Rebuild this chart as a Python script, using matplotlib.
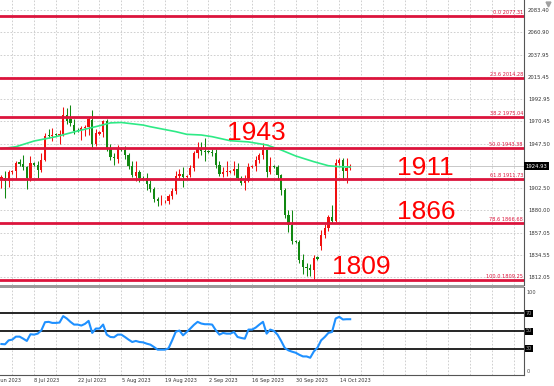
import matplotlib
matplotlib.use("Agg")
import matplotlib.pyplot as plt
import matplotlib.transforms as mtransforms
from matplotlib.lines import Line2D
from matplotlib.patches import Rectangle
import numpy as np

# ---------- daily XAUUSD bars, 28 Jun 2023 .. 18 Oct 2023 (broker shows short Sunday bars) ----------
opens = [1911.5, 1913, 1910, 1919, 1920, 1929, 1927, 1924, 1913, 1928,
         1926, 1921, 1931, 1957, 1955, 1957.5, 1956, 1958, 1977, 1973,
         1967, 1962, 1962, 1964, 1965, 1972, 1947, 1958, 1960, 1971,
         1943, 1934, 1932, 1942, 1941, 1936, 1925, 1915, 1919, 1913,
         1913, 1907, 1902, 1892, 1889, 1889, 1890, 1895, 1900, 1915,
         1917, 1914, 1916, 1923, 1938, 1942, 1940, 1940, 1939, 1938,
         1926, 1917, 1919, 1919, 1920, 1922, 1913, 1908, 1910, 1924,
         1925, 1931, 1936, 1941, 1919, 1925, 1924, 1916, 1901, 1875,
         1865, 1849, 1848, 1830, 1823, 1821, 1819, 1833, 1844, 1855,
         1862, 1873, 1869, 1928, 1931, 1920, 1923]
highs = [1916, 1920, 1921, 1921, 1930, 1932, 1936, 1925, 1935, 1929,
         1930, 1938, 1959, 1963, 1964, 1959, 1962, 1985, 1984, 1987,
         1973, 1964, 1966, 1967, 1975, 1982, 1963, 1961, 1972, 1973,
         1947, 1938, 1946, 1944, 1945, 1938, 1930, 1930, 1921, 1915,
         1918, 1911, 1904, 1894, 1896, 1891, 1897, 1903, 1920, 1922,
         1924, 1916, 1926, 1940, 1949, 1949, 1953, 1941, 1942, 1942,
         1930, 1924, 1930, 1921, 1930, 1928, 1915, 1916, 1928, 1926,
         1935, 1938, 1948, 1942, 1934, 1926, 1926, 1917, 1903, 1880,
         1880, 1850, 1850, 1836, 1827, 1826, 1835, 1834, 1860, 1866,
         1875, 1885, 1932, 1933, 1933, 1933, 1927]
lows = [1903, 1893, 1904, 1917, 1912, 1925, 1921, 1902, 1910, 1925,
        1913, 1919, 1930, 1953, 1950, 1955, 1947, 1955, 1968, 1966,
        1958, 1960, 1951, 1955, 1956, 1942, 1945, 1957, 1954, 1940,
        1931, 1926, 1928, 1940, 1932, 1922, 1914, 1910, 1909, 1911,
        1901, 1899, 1888, 1884, 1885, 1887, 1886, 1892, 1897, 1911,
        1904, 1913, 1914, 1920, 1933, 1936, 1930, 1938, 1935, 1923,
        1915, 1914, 1915, 1918, 1916, 1911, 1906, 1901, 1909, 1923,
        1920, 1928, 1932, 1914, 1917, 1923, 1911, 1896, 1872, 1858,
        1846, 1847, 1827, 1815, 1813, 1813, 1809.25, 1830, 1840, 1852,
        1859, 1867, 1868, 1926, 1911, 1908, 1921]
closes = [1913.5, 1910, 1919, 1920, 1928, 1927, 1924, 1913, 1928, 1926,
          1921, 1931, 1955, 1955, 1956, 1956, 1958, 1977, 1971, 1969,
          1961, 1961, 1964, 1965, 1973, 1947, 1959, 1960, 1971, 1943,
          1934, 1933, 1943, 1941, 1936, 1925, 1916, 1919, 1913, 1912,
          1907, 1902, 1892, 1889, 1890, 1890, 1895, 1900, 1915, 1917,
          1914, 1915, 1923, 1938, 1942, 1940, 1939.5, 1939, 1938, 1926,
          1917, 1919, 1919.5, 1920, 1922, 1913, 1908, 1910, 1924, 1925,
          1931, 1936, 1941, 1919, 1925, 1924, 1916, 1901, 1875, 1865,
          1849, 1848, 1830, 1823, 1821, 1819, 1832, 1831, 1855, 1862,
          1873, 1869, 1928, 1931, 1920, 1923, 1924.93]

# moving average, read at a few bars
ma_idx = [0, 4, 9, 15, 21, 27, 30, 33, 39, 41, 48, 51, 55, 58, 63, 68, 73, 77, 81, 86, 90, 93, 96]
ma_val = [1942.6, 1944.6, 1950.4, 1954.8, 1960.6, 1965.9, 1968.8, 1969.2, 1966.6, 1964.9,
          1959.9, 1957.2, 1956.5, 1954.8, 1950.7, 1949.5, 1946.4, 1941.3, 1935.2, 1929.4,
          1925.3, 1924.3, 1924.0]

rsi = [35.2, 34.9, 39.4, 40.2, 43.6, 43.6, 41.3, 38.7, 46.3, 45.9,
       47.0, 50.8, 60.0, 60.4, 59.2, 59.2, 59.6, 66.9, 64.2, 60.4,
       57.3, 57.3, 56.2, 58.1, 61.5, 47.8, 52.8, 52.8, 57.3, 45.9,
       43.2, 42.9, 45.9, 45.9, 43.2, 40.2, 37.5, 38.7, 37.5, 37.1,
       35.6, 34.5, 31.8, 28.8, 28.8, 28.8, 30.3, 39.4, 49.2, 50.5,
       45.1, 48.9, 52.8, 57.0, 60.4, 58.5, 57.7, 57.7, 57.3, 50.9,
       45.9, 47.8, 47.0, 47.0, 48.9, 43.2, 42.1, 41.3, 51.6, 51.6,
       53.9, 57.3, 60.4, 47.0, 51.6, 50.1, 45.9, 38.7, 30.7, 28.0,
       26.5, 25.3, 23.0, 21.1, 21.1, 19.6, 26.8, 31.1, 39.4, 43.2,
       47.8, 48.9, 64.2, 66.1, 63.1, 63.4, 63.4]
rsi_levels = [70, 50, 30]

fib_levels = [2077.31, 2014.28, 1975.04, 1943.38, 1911.73, 1866.68, 1809.25]
fib_labels = ["0.0 2077.31", "23.6 2014.28", "38.2 1975.04", "50.0 1943.38",
              "61.8 1911.73", "78.6 1866.68", "100.0 1809.25"]

big_labels = ["1943", "1911", "1866", "1809"]
big_pos = [(62.1, 1951.4), (108.8, 1915.9), (108.9, 1870.9), (91.1, 1815.9)]

price_ticks = [2083.40, 2060.90, 2037.95, 2015.45, 1992.95, 1970.45, 1947.50,
               1902.50, 1880.00, 1857.05, 1834.55, 1812.05]
bid = 1924.93

date_pos = [-3, 9, 21, 33, 45, 57, 69, 81, 93]
date_labels = ["24 Jun 2023", "8 Jul 2023", "22 Jul 2023", "5 Aug 2023", "19 Aug 2023",
               "2 Sep 2023", "16 Sep 2023", "30 Sep 2023", "14 Oct 2023"]
grid_pos = list(range(3, 144, 6))

# ---------- figure ----------
W, H = 554, 386
fig = plt.figure(figsize=(W / 100, H / 100), dpi=100)
ax = fig.add_axes([0, (H - 285) / H, 523.5 / W, 285 / H])
ar = fig.add_axes([0, (H - 375) / H, 523.5 / W, 88 / H])

XL = (-0.385, 143.7)
gridkw = dict(color='#c8c8c8', lw=0.6, ls=(0, (2, 2)))

# main panel
x = np.arange(len(closes))
o, h, l, c = map(np.array, (opens, highs, lows, closes))
col = np.where(c >= o, '#f01010', '#118811')
ax.vlines(x, l, h, colors=col, lw=0.75, zorder=2)
ax.bar(x, np.maximum(np.abs(c - o), 0.8), bottom=np.minimum(o, c), width=0.62,
       color=col, linewidth=0, zorder=2)
ax.plot(ma_idx, ma_val, color='#2eea86', lw=1.2, zorder=3)

for v in fib_levels:
    ax.axhline(v, color='#dc143c', lw=2.0, zorder=4)
tr = mtransforms.blended_transform_factory(ax.transAxes, ax.transData)
for v, s in zip(fib_levels, fib_labels):
    ax.text(0.999, v + 1.2, s, transform=tr, ha='right', va='bottom',
            fontsize=3.6, color='#dc143c', zorder=6)

ax.axhline(bid, color='#c8c8c8', lw=0.7, zorder=1)
for s, (bx, by) in zip(big_labels, big_pos):
    ax.text(bx, by, s, fontsize=19, color='#ff0000', family='Liberation Sans',
            ha='left', va='baseline', zorder=7)

ax.set_xlim(*XL)
ax.set_ylim(1804.23, 2093.55)
ax.set_xticks(grid_pos)
ax.set_yticks(price_ticks)
ax.set_yticklabels([f"{v:.2f}" for v in price_ticks])
ax.yaxis.tick_right()
ax.tick_params(axis='y', length=0, pad=3.2, labelsize=3.8, labelcolor='#333333')
ax.tick_params(axis='x', length=0, labelbottom=False)
ax.grid(True, **gridkw)
ax.set_axisbelow(True)
for s in ['left', 'top', 'bottom']:
    ax.spines[s].set_visible(False)
ax.spines['right'].set_color('#555555')
ax.spines['right'].set_linewidth(0.8)
ax.text(1.004, bid, f"{bid:.2f}", transform=tr, ha='left', va='center', fontsize=3.8,
        color='white', bbox=dict(boxstyle='square,pad=0.25', fc='black', ec='none'))

# separator between windows
fig.add_artist(Rectangle((0, (H - 287.5) / H), 523.5 / W, 3 / H, transform=fig.transFigure,
                         fc='#9a9a9a', ec='none'))

# RSI panel
ar.plot(x, rsi, color='#1e90ff', lw=1.5, zorder=3)
for v in rsi_levels:
    ar.axhline(v, color='black', lw=1.2, zorder=2)
ar.set_xlim(*XL)
ar.set_ylim(0, 100)
ar.set_xticks(grid_pos)
ar.set_yticks([])
ar.tick_params(axis='x', length=0, labelbottom=False)
ar.grid(True, axis='x', **gridkw)
for s in ['left', 'top']:
    ar.spines[s].set_visible(False)
for s in ['right', 'bottom']:
    ar.spines[s].set_color('#555555')
    ar.spines[s].set_linewidth(0.8)
trr = mtransforms.blended_transform_factory(ar.transAxes, ar.transData)
ar.text(1.006, 97, "100", transform=trr, ha='left', va='top', fontsize=3.6, color='#444444')
ar.text(1.006, 1.5, "0", transform=trr, ha='left', va='bottom', fontsize=3.6, color='#444444')
for v in rsi_levels:
    ar.text(1.004, v, str(v), transform=trr, ha='left', va='center', fontsize=3.6,
            color='#aaaaaa', bbox=dict(boxstyle='square,pad=0.2', fc='black', ec='none'))

trd = mtransforms.blended_transform_factory(ar.transData, ar.transAxes)
for p, s in zip(date_pos, date_labels):
    ar.text(p + 0.1, -0.057, s, transform=trd, ha='left', va='center', fontsize=3.6,
            color='#333333', clip_on=False)

# chart-shift marker, top right
fig.add_artist(Line2D([548 / W], [1 - 3.5 / H], marker='v', color='#a0a0a0', ms=3.5,
                      transform=fig.transFigure))

fig.savefig("out.png", dpi=100)
